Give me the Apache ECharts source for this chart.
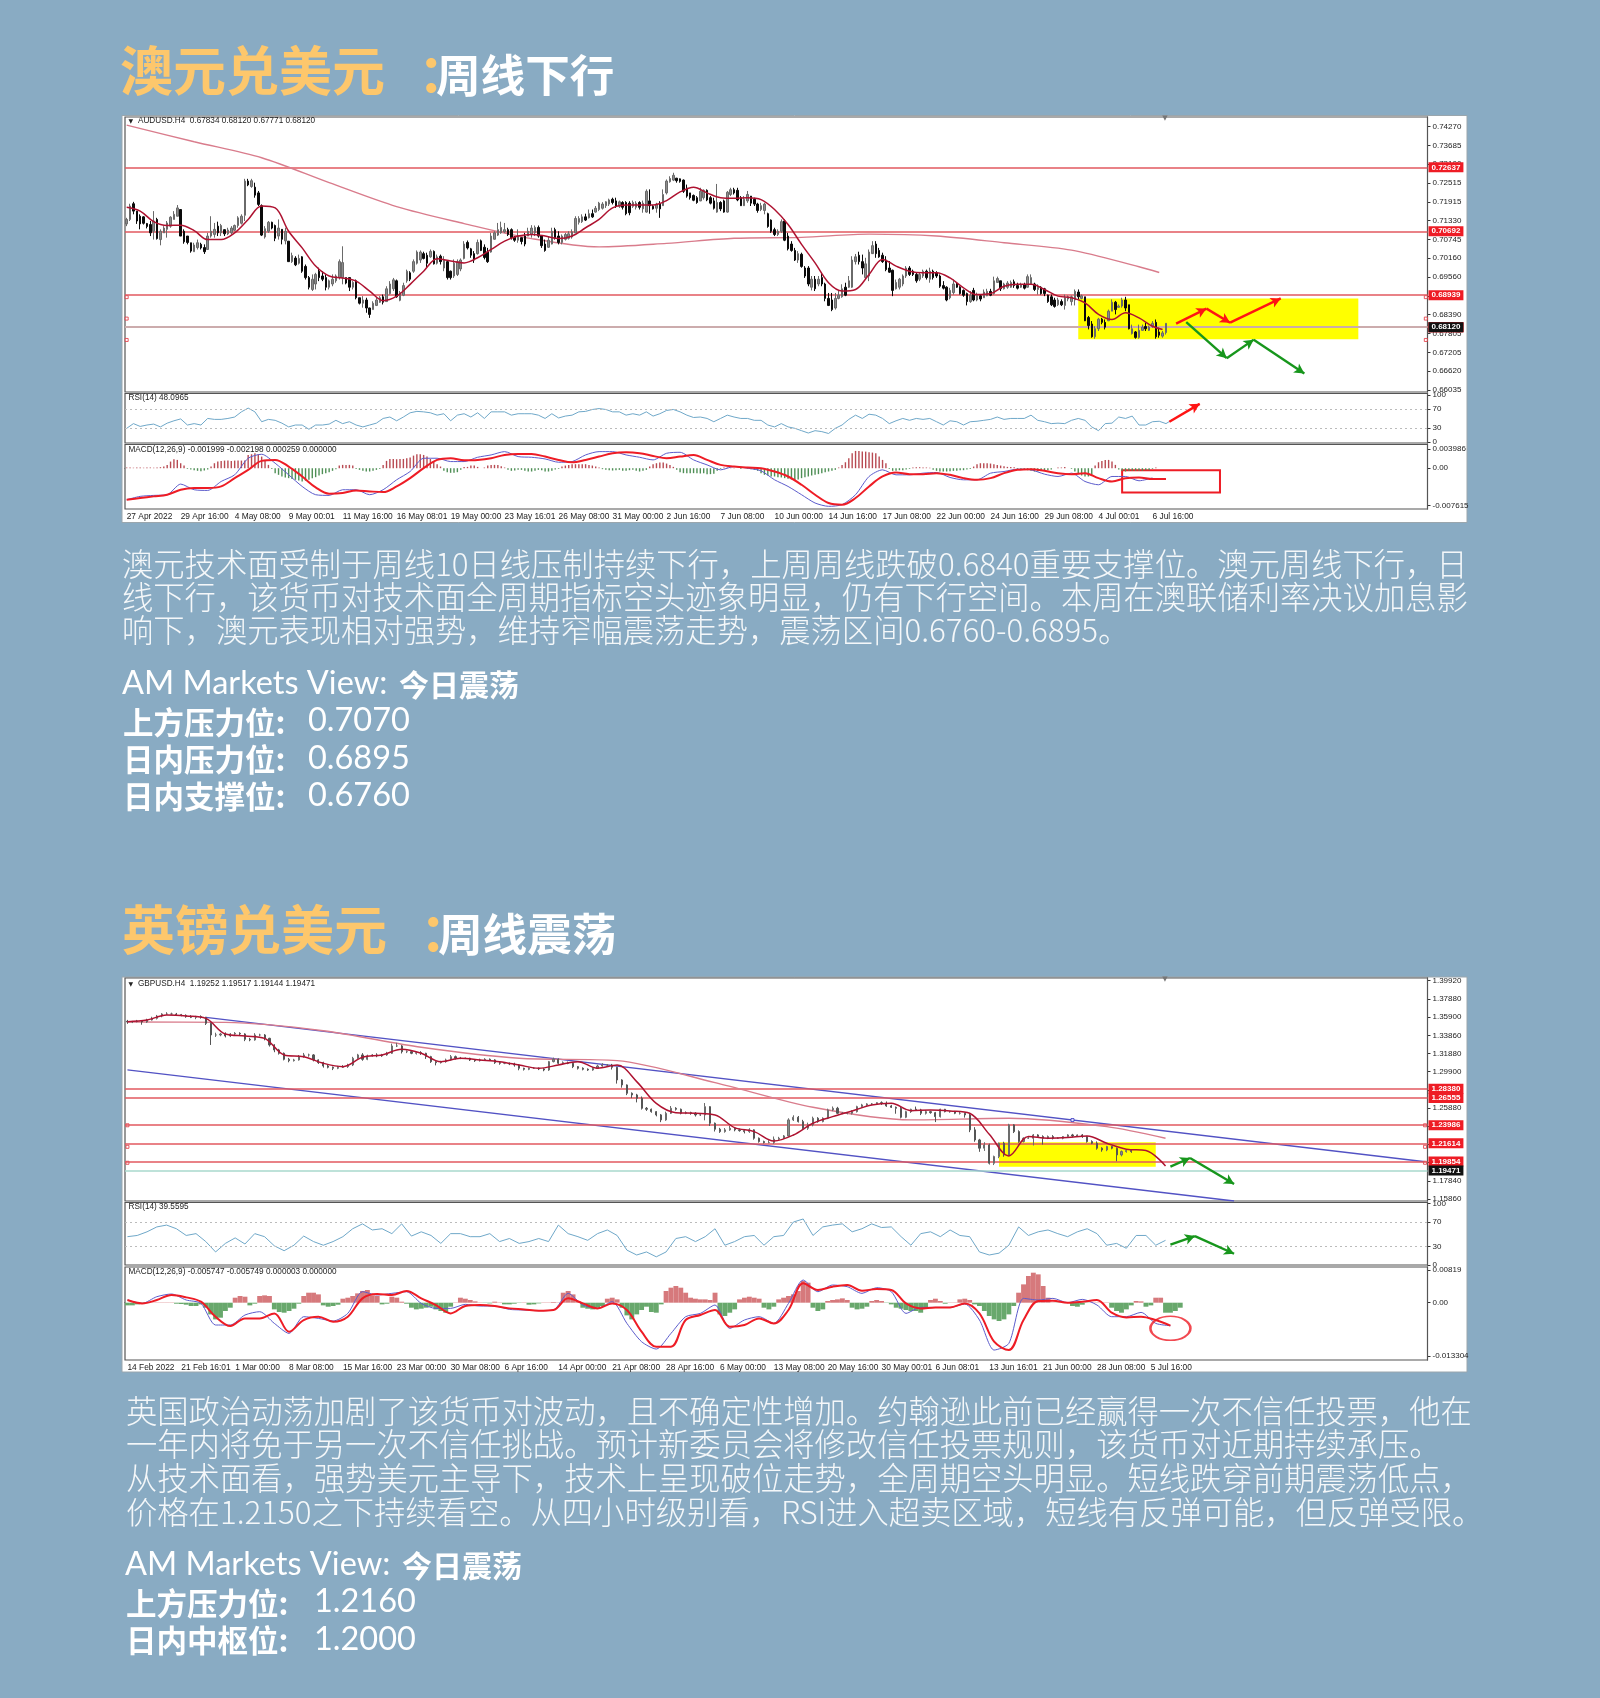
<!DOCTYPE html>
<html><head><meta charset="utf-8">
<script src="https://cdn.jsdelivr.net/npm/echarts@6/dist/echarts.min.js"></script>
<style>html,body{margin:0;padding:0;background:#89abc3}#c{width:1600px;height:1698px}</style>
</head><body><div id="c"></div>
<script>
// ---------- AUD/USD H4 values (prices in 1e-4, each row: open, close, low, high) ----------
const audCandles = [
[7123,7137,7116,7142],[7137,7179,7132,7186],[7186,7163,7153,7192],[7163,7132,7123,7163],[7147,7123,7106,7153],[7145,7125,7121,7147],[7124,7115,7109,7126],[7121,7095,7085,7132],[7100,7132,7074,7163],[7137,7077,7074,7142],
[7074,7100,7056,7106],[7095,7110,7095,7116],[7106,7126,7080,7132],[7116,7144,7111,7147],[7137,7153,7137,7163],[7147,7173,7147,7182],[7168,7085,7085,7168],[7100,7067,7061,7106],[7085,7065,7059,7085],[7064,7038,7033,7064],
[7036,7057,7036,7064],[7049,7064,7043,7074],[7059,7048,7043,7064],[7049,7036,7029,7059],[7043,7085,7043,7095],[7085,7100,7080,7147],[7090,7106,7080,7126],[7116,7095,7085,7130],[7095,7118,7085,7123],[7105,7092,7085,7106],
[7092,7104,7088,7111],[7095,7110,7090,7116],[7103,7118,7100,7121],[7118,7142,7111,7147],[7125,7147,7121,7153],[7150,7257,7132,7264],[7257,7245,7241,7264],[7240,7258,7236,7264],[7238,7213,7205,7252],[7220,7184,7179,7226],
[7180,7088,7085,7184],[7082,7108,7077,7116],[7100,7128,7095,7132],[7128,7110,7106,7130],[7118,7078,7069,7121],[7085,7110,7074,7137],[7106,7075,7059,7106],[7070,7100,7059,7111],[7069,7005,7005,7069],[7005,7024,7001,7033],
[7016,6995,6991,7022],[7000,7015,6996,7027],[7020,6975,6970,7022],[6990,6955,6949,6996],[6955,6925,6918,6960],[6918,6950,6913,6965],[6935,6965,6918,6970],[6975,6955,6944,6986],[6960,6950,6944,6975],[6955,6925,6915,6965],
[6925,6945,6918,6949],[6935,6950,6928,6965],[6945,6960,6939,6965],[6955,7005,6949,7012],[6955,7002,6934,7053],[6955,6938,6934,6955],[6955,6925,6913,6955],[6925,6940,6918,6944],[6945,6892,6887,6949],[6892,6875,6871,6892],
[6875,6885,6861,6897],[6885,6860,6845,6892],[6860,6840,6829,6861],[6855,6875,6855,6881],[6868,6885,6866,6892],[6878,6892,6876,6897],[6895,6878,6871,6902],[6880,6920,6880,6928],[6905,6935,6902,6944],[6920,6948,6913,6954],
[6945,6895,6892,6949],
[6884,6908,6881,6913],[6900,6930,6897,6939],[6945,6975,6939,6980],[6970,6950,6944,6975],[6975,7005,6970,7012],[7000,7035,6996,7040],[7010,7035,7001,7040],[7030,7015,7012,7036],[7025,7000,6986,7033],[7020,7037,7017,7043],
[7037,6998,6996,7040],[7000,7020,6996,7027],[7022,7005,6996,7027],[6985,7010,6975,7022],[7005,6955,6949,7007],[6975,6955,6949,6977],[6960,7000,6954,7012],[6965,7005,6960,7012],[6982,7010,6975,7015],[7015,7060,7012,7069],
[7065,7048,7043,7071],[7045,7025,7017,7048],[7030,7010,7001,7038],[7030,7065,7027,7074],[7070,7040,7038,7074],[7050,7018,7012,7059],[7035,7005,7001,7048],[7035,7085,7033,7095],[7075,7095,7074,7100],[7088,7105,7085,7126],
[7095,7112,7092,7130],[7098,7105,7095,7126],[7105,7090,7085,7111],[7105,7080,7074,7109],[7082,7072,7067,7085],[7072,7085,7064,7106],[7080,7068,7059,7080],[7085,7060,7053,7095],[7085,7100,7085,7111],[7090,7110,7080,7119],
[7095,7112,7085,7118],[7112,7085,7080,7118],[7085,7055,7048,7085],[7060,7040,7036,7074],[7050,7072,7048,7085],[7060,7100,7059,7111],[7105,7080,7074,7111],[7085,7065,7059,7100],[7065,7085,7059,7090],[7075,7090,7071,7095],
[7078,7092,7074,7100],[7082,7098,7077,7106],[7095,7140,7095,7147],[7128,7140,7121,7147],[7130,7145,7126,7153],[7145,7135,7132,7155],[7142,7155,7140,7168],[7155,7145,7142,7168],[7160,7172,7158,7179],[7168,7188,7163,7192],
[7172,7185,7168,7191],[7180,7192,7173,7194],[7185,7198,7179,7202],[7200,7190,7184,7205],[7195,7178,7173,7205],[7178,7192,7173,7196],[7190,7175,7168,7194],[7190,7155,7150,7194],[7188,7158,7150,7194],[7178,7190,7173,7196],
[7175,7188,7168,7194],[7190,7175,7168,7194],[7170,7188,7158,7196],[7160,7225,7158,7231],[7195,7180,7155,7231],[7178,7170,7168,7182],[7172,7185,7158,7189],[7185,7170,7142,7194],[7180,7215,7179,7231],
[7220,7257,7215,7262],[7255,7265,7252,7272],[7260,7275,7257,7283],[7266,7258,7252,7267],[7264,7256,7252,7265],[7260,7225,7220,7262],[7235,7210,7205,7246],[7220,7205,7199,7220],[7212,7197,7194,7215],[7205,7190,7186,7210],
[7195,7225,7194,7236],[7205,7228,7199,7231],[7228,7198,7194,7231],[7205,7188,7184,7210],[7195,7172,7168,7205],[7160,7190,7158,7248],[7190,7170,7163,7194],[7195,7160,7158,7199],[7160,7222,7158,7226],[7215,7230,7210,7236],
[7230,7220,7215,7236],[7228,7198,7194,7236],[7205,7180,7179,7210],[7180,7200,7179,7210],[7195,7215,7189,7226],[7210,7188,7179,7210],[7200,7185,7179,7205],[7185,7165,7158,7189],[7168,7180,7163,7189],[7165,7185,7153,7189],
[7155,7115,7111,7158],[7135,7100,7095,7137],[7105,7090,7085,7111],[7090,7100,7085,7106],[7100,7130,7095,7137],[7132,7072,7069,7137],[7085,7045,7040,7095],[7060,7040,7036,7069],[7040,7010,7007,7048],[7010,7030,7001,7038],
[7028,6990,6986,7033],[6985,6960,6954,6991],[6985,6935,6928,6991],[6925,6950,6915,6960],[6950,6920,6913,6960],[6935,6950,6928,6960],[6955,6935,6928,6970],[6935,6890,6881,6939],[6890,6868,6866,6907],[6885,6855,6850,6907],
[6860,6890,6855,6907],[6890,6900,6887,6913],[6895,6920,6892,6934],[6925,6900,6897,6939],[6925,6945,6923,6960],[6925,7010,6923,7022],[7005,7020,6996,7029],[7025,7005,6996,7036],[7005,6985,6965,7027],[6955,6998,6949,7017],
[6960,7035,6944,7043],[7030,7055,7033,7069],[7060,7030,7017,7069],[7040,7020,7017,7048],[7025,7005,7001,7033],[7010,6980,6975,7022],[6985,6972,6970,7007],[6978,6915,6897,6980],[6920,6940,6918,6949],[6925,6950,6918,6954],
[6935,6960,6928,6965],[6960,6985,6954,6991],[6985,6965,6960,6991],[6975,6965,6960,6980],[6965,6945,6939,6970],[6950,6965,6944,6970],[6960,6975,6954,6980],[6975,6955,6949,6980],[6950,6975,6939,6986],[6975,6955,6949,6980],
[6970,6960,6954,6975],
[6960,6928,6923,6965],[6930,6922,6918,6944],[6925,6885,6881,6928],[6892,6915,6887,6923],[6908,6935,6902,6949],[6935,6925,6923,6939],[6925,6905,6902,6928],[6915,6900,6895,6918],[6905,6880,6868,6908],[6880,6900,6876,6913],
[6915,6885,6881,6923],[6885,6900,6881,6908],[6898,6888,6881,6902],[6892,6910,6892,6918],[6898,6912,6897,6920],[6912,6900,6897,6920],[6905,6945,6902,6958],[6940,6952,6939,6958],[6945,6920,6913,6945],[6920,6935,6918,6939],
[6925,6938,6920,6944],[6925,6940,6923,6946],[6942,6930,6923,6949],[6930,6922,6918,6939],[6925,6932,6923,6939],[6932,6922,6918,6939],[6925,6958,6924,6965],[6935,6955,6934,6965],[6935,6918,6913,6939],[6918,6925,6902,6934],
[6925,6905,6902,6928],[6920,6905,6897,6923],[6900,6880,6876,6902],[6895,6870,6866,6902],[6885,6865,6861,6892],[6870,6885,6866,6892],[6880,6870,6866,6887],[6868,6892,6855,6902],[6888,6895,6881,6899],[6880,6895,6868,6899],
[6885,6912,6868,6918],[6910,6895,6887,6918],[6890,6898,6887,6902],[6895,6820,6819,6895],[6830,6805,6793,6835],[6810,6770,6767,6819],[6770,6795,6764,6803],[6795,6825,6788,6829],[6825,6815,6809,6829],[6815,6800,6793,6824],
[6820,6850,6819,6855],[6850,6878,6850,6887],[6878,6855,6840,6882],[6862,6866,6861,6871],[6866,6885,6861,6892],[6885,6860,6850,6895],[6870,6795,6793,6870],[6780,6795,6777,6808],[6785,6768,6764,6788],[6768,6790,6764,6808],
[6790,6800,6791,6808],[6802,6795,6788,6814],[6790,6800,6788,6805],[6803,6812,6798,6819],[6815,6770,6764,6824],[6785,6775,6767,6798],[6772,6782,6767,6788],[6783,6812,6777,6812]];
// moving average read every 4 bars
const audMa = [7175,7163,7130,7118,7119,7102,7074,7074,7095,7137,7179,7173,7100,7048,6991,6960,6954,6944,6913,6883,6897,6934,6975,7014,7007,7001,7017,7043,7069,7085,7090,7085,7077,7085,7111,7137,7173,7182,7182,7182,7196,7223,7238,7220,7205,7203,7205,7199,7168,7121,7059,7001,6939,6913,6918,6965,7012,6991,6975,6970,6970,6954,6923,6902,6905,6928,6934,6934,6918,6897,6892,6876,6840,6824,6845,6829,6803,6793];
// long moving average read at these bars
const audMaLongBars = [0,20,40,60,80,100,120,140,160,180,200,220,240,260,280,300,306];
const audMaLong = [7432,7380,7330,7252,7177,7124,7077,7051,7062,7078,7081,7091,7085,7064,7041,6989,6971];
const audLevels = [0.72637,0.70692,0.68939,0.68268,0.676];
const audCurrent = 0.6812;
const audTicks = [0.7427,0.73685,0.731,0.72515,0.71915,0.7133,0.70745,0.7016,0.6956,0.6898,0.6839,0.67805,0.67205,0.6662,0.66035];
const audTimes = ['27 Apr 2022','29 Apr 16:00','4 May 08:00','9 May 00:01','11 May 16:00','16 May 08:01','19 May 00:00','23 May 16:01','26 May 08:00','31 May 00:00','2 Jun 16:00','7 Jun 08:00','10 Jun 00:00','14 Jun 16:00','17 Jun 08:00','22 Jun 00:00','24 Jun 16:00','29 Jun 08:00','4 Jul 00:01','6 Jul 16:00'];
// RSI read every 2 bars
const audRsi = [29,39,33,36,38,32,40,45,49,36,39,36,50,48,48,50,53,64,72,64,43,48,46,40,32,36,36,27,36,36,38,46,39,43,36,32,36,40,50,53,45,53,62,65,64,62,57,60,45,57,60,53,62,50,64,64,64,57,60,60,60,57,50,60,51,55,57,64,65,69,71,69,64,64,57,60,57,64,55,60,67,69,64,57,52,53,50,43,50,57,53,50,50,46,46,36,32,39,32,29,24,19,24,22,18,29,36,48,57,50,59,57,50,39,45,50,46,50,48,50,43,36,45,43,36,43,44,46,48,53,48,50,50,50,57,46,43,39,40,39,46,50,46,32,24,39,40,53,50,55,36,36,43,44,39,48];
const audRsiGuide = [70,30];
const audRsiTicks = [100,70,30,0];
// MACD lines read every 4 bars, histogram per bar (all in 1e-5)
const audMacd = [-646,-578,-558,-544,-326,-442,-456,-272,-136,204,286,102,-136,-374,-544,-558,-442,-442,-544,-442,-238,-68,204,204,136,136,224,272,340,238,224,190,122,136,272,340,340,272,224,170,306,326,170,68,-34,34,0,-54,-238,-374,-544,-714,-782,-748,-544,-170,-34,-136,-136,-102,-88,-190,-238,-238,-102,-68,-20,-34,-122,-170,-102,-272,-340,-170,-170,-258,-200];
const audSignal = [-646,-612,-578,-544,-442,-408,-408,-374,-204,-34,150,170,34,-170,-394,-524,-510,-456,-476,-490,-374,-204,0,170,204,163,170,204,272,292,292,238,170,122,170,238,306,326,306,252,204,238,272,170,68,34,14,0,-68,-170,-340,-544,-714,-748,-612,-374,-170,-88,-122,-122,-102,-136,-204,-238,-204,-102,-34,-20,-54,-102,-122,-102,-204,-272,-204,-190,-224,-220];
const audHist = [14,14,10,14,14,10,14,14,10,14,21,34,68,136,184,170,102,54,-14,-27,-41,-54,-61,-48,-27,34,102,136,150,156,156,150,156,156,156,156,272,286,306,286,238,170,68,-14,-102,-136,-170,-190,-204,-224,-238,-252,-272,-258,-238,-204,-184,-150,-122,-102,-82,-54,-20,54,68,68,68,54,-14,-34,-54,-68,-68,-54,-34,-14,68,150,190,190,184,190,190,204,218,258,286,286,272,238,190,136,82,34,-54,-82,-95,-95,-82,-34,27,27,54,54,27,0,14,54,68,68,68,40,14,-34,-54,-48,-34,-34,-54,-68,-68,-54,-34,-41,-68,-68,-54,-27,-14,34,54,68,82,82,82,82,82,68,54,34,14,-20,-34,-41,-48,-41,-34,-54,-54,-41,-34,-54,-68,-54,-34,34,82,102,116,116,95,68,27,-34,-82,-102,-102,-102,-102,-102,-109,-102,-122,-122,-116,-54,-14,14,14,7,7,0,-14,0,-14,-20,-34,-54,-102,-136,-150,-170,-170,-184,-190,-204,-218,-232,-245,-232,-204,-184,-170,-150,-136,-122,-102,-82,-68,-54,-34,14,68,122,204,306,354,354,340,340,326,320,306,238,170,102,-14,-54,-54,-41,-41,-27,-14,14,20,20,14,14,7,-34,-54,-68,-68,-68,-61,-54,-54,-41,-41,-27,-14,34,82,102,102,102,95,82,68,54,41,27,27,20,-14,-27,-34,-41,-54,-68,-68,-54,-54,-41,-27,0,14,14,27,0,-14,-68,-122,-150,-170,-170,-136,54,122,150,170,170,136,68,-27,-54,-68,-54,-54,-54,-54,-54,-41,-41,-14,14];
const audMacdTicks = [0.003986,0,-0.007615];
const audYellow = [282,0.689,365,0.6762];
const audRedArrows = [[311,0.6811,320,0.6858],[320,0.6858,327,0.6814],[327,0.6814,342,0.689]];
const audGreenArrows = [[314,0.6816,326,0.6703],[326,0.6703,334,0.6761],[334,0.6761,349,0.6655]];
const audRsiArrow = [[309,43,318,81]];
const audMacdBox = [295,-0.00041,324,-0.00497];

// ---------- GBP/USD H4 values (prices in 1e-4) ----------
const gbpClose = [13537,13541,13548,13537,13559,13577,13603,13625,13625,13625,13618,13610,13596,13588,13596,13588,13522,13394,13394,13405,13383,13405,13412,13405,13346,13339,13394,13394,13357,13284,13229,13192,13126,13111,13119,13155,13174,13174,13119,13089,13052,13038,13027,13038,13045,13063,13137,13174,13126,13163,13174,13163,13174,13192,13273,13273,13210,13210,13192,13199,13192,13155,13100,13089,13100,13119,13155,13137,13137,13137,13119,13111,13119,13126,13119,13089,13082,13082,13074,13063,13027,13016,13027,13027,13019,13008,13100,13126,13082,13089,13082,13045,13027,13016,13008,13027,13052,13063,13063,13038,12898,12843,12751,12733,12696,
12586,12575,12549,12513,12458,12531,12586,12575,12531,12538,12531,12513,12513,12604,12421,12355,12329,12348,12366,12348,12340,12329,12348,12256,12219,12208,12208,12245,12256,12281,12458,12487,12439,12366,12403,12476,12439,12476,12568,12586,12531,12531,12531,12549,12604,12623,12634,12634,12648,12641,12612,12597,12586,12487,12549,12575,12568,12531,12549,12538,12494,12575,12549,12549,12531,12531,12513,12348,12237,12146,12182,11980,12054,12201,12072,12403,12329,12219,12256,12256,12292,12274,12256,12274,12256,12256,12274,12292,12281,12292,12274,12219,12201,12146,12127,12164,12146,12072,12109,12120,12109,11980,11944,11925,11947];
const gbpWickUp = [15,8,12,10,14,18,12,9,20,15,12,8,11,16,9,14,6,10,25,12,18,10,14,12,8,16,20,14,10,6,8,12,9,15,12,18,22,14,9,6,10,12,8,15,18,14,16,12,20,14,10,18,12,16,25,35,10,14,12,8,16,6,9,12,10,14,18,12,15,8,6,10,14,12,9,8,12,10,8,14,10,6,9,12,8,10,8,18,10,14,12,8,6,10,9,12,14,20,10,12,5,8,6,10,12,
20,14,8,6,10,18,25,12,8,14,10,12,15,40,5,8,15,20,25,12,14,10,18,6,8,10,25,30,15,10,18,22,14,20,25,18,12,10,14,20,16,14,12,15,10,12,8,10,5,14,20,12,8,16,10,6,30,12,16,10,8,6,4,6,8,14,6,16,30,12,30,14,10,8,16,12,8,14,10,12,10,8,14,12,16,10,6,8,12,6,10,8,14,20,10,8,6,8,12,14,10];
const gbpWickDn = [20,12,8,30,10,6,12,14,9,8,15,10,12,8,20,14,18,110,22,14,16,12,10,18,20,14,8,15,22,18,25,14,12,18,10,8,12,20,16,14,18,12,20,10,8,14,12,18,16,10,8,14,12,10,8,12,20,16,10,14,18,25,14,30,10,12,8,14,10,8,12,14,10,8,12,14,16,10,12,18,22,14,10,8,12,14,10,8,14,12,10,16,14,12,10,8,6,8,12,25,40,30,20,35,45,
14,18,12,16,25,10,8,14,12,10,16,18,12,60,30,25,14,12,10,16,12,20,14,16,12,10,8,14,12,10,8,12,10,14,18,16,12,8,10,14,8,10,12,14,10,12,10,14,12,18,10,8,60,12,10,14,8,20,14,12,60,10,8,12,10,14,30,25,20,40,30,14,20,18,20,8,16,14,10,8,80,12,70,10,14,8,12,10,16,8,14,12,10,16,20,14,12,70,16,12,14,20,18,30,12];
const gbpMa = [13541,13559,13614,13603,13577,13405,13383,13357,13174,13155,13082,13045,13148,13174,13236,13192,13100,13137,13119,13100,13063,13027,13063,13100,13027,13063,12880,12641,12538,12531,12513,12373,12329,12226,12292,12421,12494,12557,12623,12641,12560,12568,12557,12531,12300,12061,12274,12256,12263,12281,12201,12135,12120,11951];
const gbpMaLongBars = [0,20,40,60,80,100,120,140,160,180,200,212];
const gbpMaLong = [13537,13533,13441,13258,13137,13111,12869,12597,12458,12476,12384,12256];
const gbpTrendUpper = [16,1.3588,265,1.1997];
const gbpTrendLower = [0,1.3009,226,1.1564];
const gbpTrendMark = [193,1.2456];
const gbpLevels = [1.2838,1.26555,1.23986,1.21614,1.19854];
const gbpCurrent = 1.19471;
const gbpTicks = [1.3992,1.3788,1.359,1.3386,1.3188,1.299,1.2786,1.2588,1.239,1.2186,1.1988,1.1784,1.1586];
const gbpTimes = ['14 Feb 2022','21 Feb 16:01','1 Mar 00:00','8 Mar 08:00','15 Mar 16:00','23 Mar 00:00','30 Mar 08:00','6 Apr 16:00','14 Apr 00:00','21 Apr 08:00','28 Apr 16:00','6 May 00:00','13 May 08:00','20 May 16:00','30 May 00:01','6 Jun 08:01','13 Jun 16:01','21 Jun 00:00','28 Jun 08:00','5 Jul 16:00'];
const gbpRsi = [46,48,54,62,65,59,48,51,38,21,35,44,34,51,46,31,23,32,47,38,32,38,46,59,67,57,59,51,67,47,54,48,35,51,51,46,46,51,38,43,35,38,43,38,65,51,46,40,51,57,48,24,16,21,13,21,43,46,38,46,59,32,38,46,48,32,46,48,70,75,48,62,65,67,54,59,67,61,62,46,32,51,54,46,57,48,46,21,16,19,32,62,48,54,57,51,46,54,59,51,32,35,27,48,48,32,40];
const gbpRsiGuide = [70,30];
const gbpRsiTicks = [100,70,30,0];
// MACD lines read every 3 bars
const gbpMacd = [67,-17,150,217,67,-17,-558,-558,-308,-225,-517,-767,-350,-392,-458,-267,275,192,233,275,-17,-142,-142,-42,-83,-83,-167,-183,-200,-183,233,-58,-142,25,-517,-975,-1158,-767,-350,-267,-58,-642,-433,-350,-517,-17,567,275,442,400,233,375,275,-267,-117,-117,-117,-33,-433,-1183,-1017,108,67,108,0,83,-58,-350,-350,-242,-517,-575];
const gbpSignal = [67,-17,67,192,133,25,-350,-583,-392,-392,-267,-725,-433,-350,-475,-350,108,217,192,292,108,-58,-267,-83,-58,-83,-142,-167,-200,-183,108,-17,-142,-17,-183,-725,-1100,-1100,-433,-308,-183,-600,-558,-392,-517,-183,483,317,400,442,300,342,317,-17,-142,-117,-117,-17,-267,-975,-1183,-433,42,50,0,25,67,-250,-367,-350,-433,-575];
const gbpHist = [-67,-67,-42,-25,8,8,8,8,8,8,-25,-33,-50,-83,-83,-42,-125,-292,-417,-375,-208,-125,125,167,150,-67,-25,167,183,167,-167,-233,-250,-208,-150,-25,167,250,250,208,-67,-100,-83,-50,100,125,167,233,292,317,183,167,-42,-25,150,125,25,-25,-125,-167,-150,-125,-100,-167,-208,-250,-100,8,125,100,67,33,8,-8,-17,25,8,-42,-42,-25,-8,8,-50,-42,-17,8,8,17,8,250,292,208,42,-125,-150,-167,-125,-83,100,125,83,-125,-317,-417,-292,-183,-100,-233,-250,-42,292,375,417,375,250,125,100,83,83,67,250,-292,-333,-250,-167,83,125,150,125,100,-125,-167,-100,83,125,167,208,292,542,500,-125,-208,-167,42,67,83,108,67,-125,-167,-150,-100,42,67,42,-8,-42,-125,-150,-183,-208,-208,-250,-125,67,100,42,-25,8,8,83,100,67,-42,-83,-208,-333,-417,-458,-417,-292,-83,250,458,667,750,708,417,125,8,-8,8,-8,-83,-100,-50,-8,8,8,8,8,-125,-208,-250,-167,-67,42,33,-100,-67,125,125,-250,-250,-208,-125];
const gbpMacdTicks = [0.00819,0,-0.013304];
const gbpYellow = [178,1.2211,210,1.1942];
const gbpGreenArrows = [[213,1.1942,217,1.2038],[217,1.2038,226,1.1752]];
const gbpRsiArrows = [[213,33,218,47],[218,47,226,18]];
const gbpMacdRing = [213,-0.00641];

// ---------- Page text ----------
const audTitle = ['澳元兑美元','：','周线下行'];
const gbpTitle = ['英镑兑美元','：','周线震荡'];
const audBody = ['澳元技术面受制于周线10日线压制持续下行，上周周线跌破0.6840重要支撑位。澳元周线下行，日','线下行，该货币对技术面全周期指标空头迹象明显，仍有下行空间。本周在澳联储利率决议加息影','响下，澳元表现相对强势，维持窄幅震荡走势，震荡区间0.6760-0.6895。'];
const gbpBody = ['英国政治动荡加剧了该货币对波动，且不确定性增加。约翰逊此前已经赢得一次不信任投票，他在','一年内将免于另一次不信任挑战。预计新委员会将修改信任投票规则，该货币对近期持续承压。','从技术面看，强势美元主导下，技术上呈现破位走势，全周期空头明显。短线跌穿前期震荡低点，','价格在1.2150之下持续看空。从四小时级别看，RSI进入超卖区域，短线有反弹可能，但反弹受限。'];
const viewLabel = 'AM Markets View:';
const viewWord = '今日震荡';
const audViews = [['上方压力位:','0.7070'],['日内压力位:','0.6895'],['日内支撑位:','0.6760']];
const gbpViews = [['上方压力位:','1.2160'],['日内中枢位:','1.2000']];
const audHeader = ['AUDUSD.H4  0.67834 0.68120 0.67771 0.68120','RSI(14) 48.0965','MACD(12,26,9) -0.001999 -0.002198 0.000259 0.000000'];
const gbpHeader = ['GBPUSD.H4  1.19252 1.19517 1.19144 1.19471','RSI(14) 39.5595','MACD(12,26,9) -0.005747 -0.005749 0.000003 0.000000'];

// ---------- Build ----------
const CJK='"Noto Sans CJK SC"', LAT='Lato', AX='"Liberation Sans"';
const grids=[], xAxes=[], yAxes=[], series=[], graphic=[];
const RED='#e2595f';

function macdFmt(v){ if(v===0) return '0.00'; return Math.abs(v)>=0.008&&v>0? v.toFixed(5): v.toFixed(6); }

function panel(g){
  // g: left,width,tops,heights,cats,tickStep,times,...
  const first=grids.length, cats=[];
  for(let i=0;i<g.n;i++) cats.push(String(i));
  g.tops.forEach((t,k)=>{
    grids.push({left:125,width:1302.5,top:t,height:g.hs[k],show:true,backgroundColor:'#fff',borderColor:'#555',borderWidth:1.2,z:1});
    const isLast=k===2;
    xAxes.push({type:'category',gridIndex:first+k,data:cats,boundaryGap:true,
      axisLine:{show:isLast,lineStyle:{color:'#333'}},
      axisTick:{show:isLast,length:3,alignWithLabel:true,interval:(i)=>i%g.tickStep===0,lineStyle:{color:'#333'}},
      axisLabel:{show:isLast,interval:(i)=>i%g.tickStep===0,align:'left',margin:4,fontSize:8.4,fontFamily:AX,color:'#222',
        hideOverlap:false,formatter:(v,idx)=>g.times[Math.round(idx/g.tickStep)]||''},
      splitLine:{show:false}});
  });
  const yAx=(k,min,max,ticks,fmt)=>yAxes.push({type:'value',gridIndex:first+k,position:'right',min,max,scale:true,
    axisLine:{show:true,lineStyle:{color:'#333'}},
    axisTick:{show:true,length:3,inside:false,customValues:ticks,lineStyle:{color:'#333'}},
    axisLabel:{show:true,customValues:ticks,formatter:fmt,margin:5,fontSize:8,fontFamily:AX,color:'#222',hideOverlap:false,showMinLabel:true,showMaxLabel:true},
    splitLine:{show:false}});
  yAx(0,g.yMain[0],g.yMain[1],g.ticks,v=>v.toFixed(5));
  yAx(1,g.yRsi[0],g.yRsi[1],g.rsiTicks,v=>String(v));
  yAx(2,g.yMacd[0],g.yMacd[1],g.macdTicks,macdFmt);
  const a=first,b=first+1,c=first+2;
  const ax=(k)=>({xAxisIndex:first+k,yAxisIndex:first+k});

  // yellow zone
  const Y=g.yellow;
  series.push({type:'line',...ax(0),z:2,data:[],symbol:'none',silent:true,
    markArea:{silent:true,itemStyle:{color:'#ffff00'},data:[[{coord:[Y[0],Y[1]]},{coord:[Y[2],Y[3]]}]]}});
  // level lines with tags
  const tagLabel=(bg,txt)=>({show:true,position:'end',distance:1,formatter:txt,backgroundColor:bg,color:'#fff',fontSize:8,fontWeight:'bold',fontFamily:AX,padding:[1,3,1,3]});
  series.push({type:'line',...ax(0),z:3,data:[],symbol:'none',silent:true,
    markLine:{silent:true,symbol:'none',animation:false,
      lineStyle:{color:RED,width:1.6,type:'solid'},
      data:g.levels.map(v=>({yAxis:v,label:tagLabel('#ee1c25',v.toFixed(5))})).concat([
        {yAxis:g.current,lineStyle:{color:g.currentColor,width:1.6,type:'solid'},label:tagLabel('#111',g.current.toFixed(5))}])}});
  // little anchors at the ends of three levels
  const anch=[]; g.levels.slice(2).forEach(v=>{anch.push([0,v]);anch.push([g.n-1,v]);});
  series.push({type:'scatter',...ax(0),z:4,silent:true,symbol:'rect',symbolSize:3,itemStyle:{color:'#fff',borderColor:'#e2303a',borderWidth:1},data:anch});
  // extra drawn lines
  (g.trends||[]).forEach(t=>series.push({type:'line',...ax(0),z:4,symbol:'none',silent:true,lineStyle:{color:'#5252c4',width:1.4},data:[[t[0],t[1]],[t[2],t[3]]]}));
  if(g.trendMark) series.push({type:'scatter',...ax(0),z:6,silent:true,symbol:'rect',symbolSize:3,itemStyle:{color:'#fff',borderColor:'#3030c0',borderWidth:1},data:[g.trendMark]});
  // long MA
  series.push({type:'line',...ax(0),z:5,symbol:'none',smooth:0.3,silent:true,lineStyle:{color:'#d97c8c',width:1.4},
    data:g.maLong.map((v,i)=>[g.maLongBars[i],v/1e4])});
  // candles
  series.push({type:'candlestick',...ax(0),z:6,silent:true,barWidth:g.barWidth,large:false,
    itemStyle:{color:g.upColor,color0:g.downColor,borderColor:g.upBorder,borderColor0:g.downColor,borderWidth:1},
    data:g.candles});
  // short MA
  series.push({type:'line',...ax(0),z:7,symbol:'none',smooth:0.35,silent:true,lineStyle:{color:'#ae1230',width:1.5},
    data:g.ma.map((v,i)=>[Math.min(i*g.maStep,g.barsN),v/1e4])});
  // arrows
  const arrows=(k,color,segs)=>series.push({type:'line',...ax(k),z:9,data:[],symbol:'none',silent:true,
    markLine:{silent:true,animation:false,symbol:['none','arrow'],symbolSize:[8,10],label:{show:false},
      lineStyle:{color,width:2.4,type:'solid'},
      data:segs.map(s=>[{coord:[s[0],s[1]]},{coord:[s[2],s[3]]}])}});
  if(g.redArrows) arrows(0,'#ff1414',g.redArrows);
  if(g.greenArrows) arrows(0,'#17961c',g.greenArrows);
  // RSI
  series.push({type:'line',...ax(1),z:4,symbol:'none',silent:true,lineStyle:{color:'#6fa8c9',width:1},
    data:g.rsi.map((v,i)=>[i*g.rsiStep,v]),
    markLine:{silent:true,symbol:'none',animation:false,label:{show:false},lineStyle:{color:'#bbb',type:[2,3],width:1},data:g.rsiGuide.map(v=>({yAxis:v}))}});
  if(g.rsiRed) arrows(1,'#ff1414',g.rsiRed);
  if(g.rsiGreen) arrows(1,'#17961c',g.rsiGreen);
  // MACD
  series.push({type:'bar',...ax(2),z:3,silent:true,barWidth:g.histWidth,
    itemStyle:{color:(p)=>p.value>=0?g.histUp:g.histDown},
    data:g.hist.map(v=>v/1e5)});
  series.push({type:'line',...ax(2),z:4,symbol:'none',smooth:0.25,silent:true,lineStyle:{color:'#5c5ccc',width:1},
    data:g.macd.map((v,i)=>[i*g.macdStep,v/1e5])});
  series.push({type:'line',...ax(2),z:5,symbol:'none',smooth:0.35,silent:true,lineStyle:{color:'#ee1c25',width:2},
    data:g.signal.map((v,i)=>[i*g.macdStep,v/1e5])});
  if(g.box){ const B=g.box;
    series.push({type:'line',...ax(2),z:8,data:[],symbol:'none',silent:true,
      markArea:{silent:true,itemStyle:{color:'rgba(0,0,0,0)',borderColor:'#ee1c25',borderWidth:2},data:[[{coord:[B[0],B[1]]},{coord:[B[2],B[3]]}]]}});
  }
  if(g.ring) series.push({type:'scatter',...ax(2),z:8,silent:true,symbol:'circle',symbolSize:[40,24],
    itemStyle:{color:'rgba(0,0,0,0)',borderColor:'#ee1c25',borderWidth:2},data:[g.ring]});
}

// AUD
panel({n:386,tickStep:16,times:audTimes,tops:[117,393.5,444.5],hs:[275,49.5,64.5],
  yMain:[0.65972,0.74574],yRsi:[-2.2,103],yMacd:[-0.00837,0.00486],
  ticks:audTicks,rsiTicks:audRsiTicks,macdTicks:audMacdTicks,
  yellow:audYellow,levels:audLevels,current:audCurrent,currentColor:'#c4c4c4',
  maLong:audMaLong,maLongBars:audMaLongBars,
  candles:audCandles.map(r=>r.map(v=>v/1e4)),barWidth:2,upColor:'#8c8c8c',upBorder:'#6a6a6a',downColor:'#0a0a0a',
  ma:audMa,maStep:4,barsN:307,redArrows:audRedArrows,greenArrows:audGreenArrows,
  rsi:audRsi,rsiStep:2,rsiGuide:audRsiGuide,rsiRed:audRsiArrow,
  hist:audHist,histWidth:1.4,histUp:'#b84a52',histDown:'#4f8f56',
  macd:audMacd,signal:audSignal,macdStep:4,box:audMacdBox});

// GBP
const gbpCandles = gbpClose.map((c,i)=>{const o=i?gbpClose[i-1]:c+8;
  return [o/1e4,c/1e4,(Math.min(o,c)-gbpWickDn[i])/1e4,(Math.max(o,c)+gbpWickUp[i])/1e4];});
panel({n:266,tickStep:11,times:gbpTimes,tops:[978,1202.5,1267],hs:[223,62.5,93],
  yMain:[1.1564,1.4022],yRsi:[-0.4,102],yMacd:[-0.01432,0.00892],
  ticks:gbpTicks,rsiTicks:gbpRsiTicks,macdTicks:gbpMacdTicks,
  yellow:gbpYellow,levels:gbpLevels,current:gbpCurrent,currentColor:'#a9d9cc',
  trends:[gbpTrendUpper,gbpTrendLower],trendMark:gbpTrendMark,
  maLong:gbpMaLong,maLongBars:gbpMaLongBars,
  candles:gbpCandles,barWidth:1.6,upColor:'#8a8a8a',upBorder:'#6c6c6c',downColor:'#555',
  ma:gbpMa,maStep:4,barsN:212,greenArrows:gbpGreenArrows,
  rsi:gbpRsi,rsiStep:2,rsiGuide:gbpRsiGuide,rsiGreen:gbpRsiArrows,
  hist:gbpHist,histWidth:4.9,histUp:'#d6797c',histDown:'#68a86c',
  macd:gbpMacd,signal:gbpSignal,macdStep:3,ring:gbpMacdRing});

// page text and frames
function txt(text,x,y,font,fill,align){graphic.push({type:'text',silent:true,z:50,style:{text,x,y,font,fill:fill||'#fff',textAlign:align||'left',textVerticalAlign:'middle'}});}
function frame(x,y,w,h){graphic.push({type:'rect',silent:true,z:-10,shape:{x,y,width:w,height:h},style:{fill:'#fff',stroke:'#9aa6ad',lineWidth:1}});}
frame(122,115.5,1345,407); frame(122,977,1345,395);

const GOLD='#fdc76c';
function title(t,x,y){
  txt(t[0],x,y,`bold 53px ${CJK}`,GOLD);
  txt(t[1],x+298,y+2,`bold 53px ${CJK}`,GOLD);
  txt(t[2],x+316,y+4,`bold 44.6px ${CJK}`,'#fff');
}
title(audTitle,120,71); title(gbpTitle,122,930);

function body(lines,x,ys){lines.forEach((l,i)=>txt(l,x,ys[i],`300 31.3px ${CJK}`,'#f4f7f9'));}
body(audBody,122,[564,597.5,630]);
body(gbpBody,126,[1411.5,1444.5,1478,1512]);

function views(x,y0,rows,vx){
  txt(viewLabel,x,y0,`32.5px ${LAT}`,'#fff');
  txt(viewWord,x+277,y0+1,`bold 30px ${CJK}`,'#fff');
  rows.forEach((r,i)=>{
    const y=y0+38+i*37.3;
    txt(r[0],x+1,y,`bold 30.5px ${CJK}`,'#fff');
    txt(r[1],vx,y-1,`32.5px ${LAT}`,'#fff');
  });
}
views(122,684,audViews,308);
views(125,1565,gbpViews,314);

function heads(h,x,ys){h.forEach((t,i)=>txt(t,i?x:x+9.5,ys[i],`8.2px ${AX}`,'#222'));
  txt('▼',x,ys[0],`6px "DejaVu Sans"`,'#222');}
heads(audHeader,128.5,[121,398,450]);
heads(gbpHeader,128.5,[984,1207,1272]);
[118.5,979.5].forEach(y=>txt('▼',1165,y,`7px "DejaVu Sans"`,'#777','center'));

const chart=echarts.init(document.getElementById('c'),null,{renderer:'canvas',width:1600,height:1698});
chart.setOption({animation:false,backgroundColor:'#89abc3',grid:grids,xAxis:xAxes,yAxis:yAxes,series,graphic:{elements:graphic},tooltip:{show:false},legend:{show:false}});
</script></body></html>
